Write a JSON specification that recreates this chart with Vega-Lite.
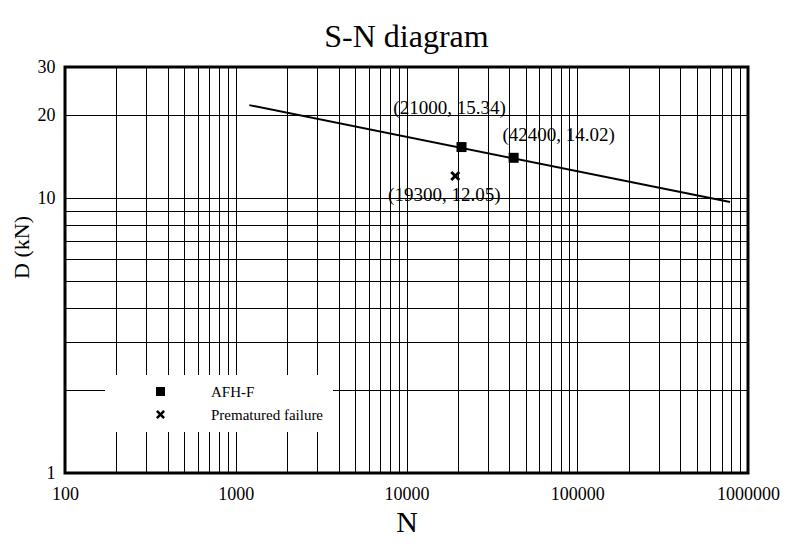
{
  "$schema": "https://vega.github.io/schema/vega-lite/v6.json",
  "width": 683,
  "height": 406,
  "autosize": {"type": "none"},
  "padding": {"left": 65, "top": 67, "right": 52, "bottom": 79},
  "background": "white",
  "title": {"text": "S-N diagram", "font": "Liberation Serif", "fontSize": 32, "fontWeight": "normal", "color": "black", "offset": 4, "anchor": "middle"},
  "config": {
    "font": "Liberation Serif",
    "view": {"stroke": "black", "strokeWidth": 3},
    "axis": {
      "grid": true, "gridColor": "black", "gridOpacity": 1, "gridWidth": 1,
      "ticks": false, "domain": false, "labelFlush": false,
      "labelFont": "Liberation Serif", "labelFontSize": 18, "labelColor": "black",
      "titleFont": "Liberation Serif", "titleFontWeight": "normal", "titleColor": "black"
    }
  },
  "datasets": {
    "fit": [
      {"N": 1200, "P": 21.8},
      {"N": 785000, "P": 9.68}
    ],
    "points": [
      {"N": 21000, "P": 15.34, "type": "AFH-F", "label": "(21000, 15.34)"},
      {"N": 42400, "P": 14.02, "type": "AFH-F", "label": "(42400, 14.02)"},
      {"N": 19300, "P": 12.05, "type": "Prematured failure", "label": "(19300, 12.05)"}
    ]
  },
  "encoding": {
    "x": {
      "field": "N", "type": "quantitative",
      "scale": {"type": "log", "domain": [100, 1000000], "nice": false},
      "axis": {
        "values": [100, 200, 300, 400, 500, 600, 700, 800, 900, 1000, 2000, 3000, 4000, 5000, 6000, 7000, 8000, 9000, 10000, 20000, 30000, 40000, 50000, 60000, 70000, 80000, 90000, 100000, 200000, 300000, 400000, 500000, 600000, 700000, 800000, 900000, 1000000],
        "labelExpr": "indexof([100, 1000, 10000, 100000, 1000000], datum.value) >= 0 ? format(datum.value, 'd') : ''",
        "labelPadding": 12,
        "labelOverlap": false,
        "title": "N", "titleFontSize": 30, "titleBaseline": "alphabetic", "titleY": 58
      }
    },
    "y": {
      "field": "P", "type": "quantitative",
      "scale": {"type": "log", "domain": [1, 30], "nice": false},
      "axis": {
        "values": [1, 2, 3, 4, 5, 6, 7, 8, 9, 10, 20, 30],
        "labelExpr": "indexof([1, 10, 20, 30], datum.value) >= 0 ? format(datum.value, 'd') : ''",
        "labelPadding": 10,
        "labelOverlap": false,
        "title": "D (kN)", "titleFontSize": 22, "titleAngle": -90,
        "titleX": -44, "titleY": 180, "titleAlign": "center", "titleBaseline": "middle"
      }
    }
  },
  "layer": [
    {
      "data": {"name": "fit"},
      "mark": {"type": "line", "color": "black", "strokeWidth": 2}
    },
    {
      "data": {"name": "points"},
      "mark": {"type": "point", "filled": true, "color": "black", "opacity": 1, "size": 100, "strokeWidth": 0},
      "encoding": {
        "shape": {
          "field": "type", "type": "nominal",
          "scale": {"domain": ["AFH-F", "Prematured failure"], "range": ["square", "M-1,-0.6L-0.6,-1L0,-0.4L0.6,-1L1,-0.6L0.4,0L1,0.6L0.6,1L0,0.4L-0.6,1L-1,0.6L-0.4,0Z"]},
          "legend": {
            "orient": "none", "legendX": 40, "legendY": 308,
            "title": null, "fillColor": "white", "padding": 9,
            "labelFont": "Liberation Serif", "labelFontSize": 15, "labelColor": "black",
            "symbolSize": 81, "symbolFillColor": "black", "symbolStrokeWidth": 0,
            "symbolOffset": 39, "labelOffset": 43, "rowPadding": 7
          }
        }
      }
    },
    {
      "data": {"name": "points"},
      "transform": [{"filter": "datum.N == 21000"}],
      "mark": {"type": "text", "fontSize": 19, "color": "black", "dx": -12, "dy": -39, "align": "center", "baseline": "middle"},
      "encoding": {"text": {"field": "label"}}
    },
    {
      "data": {"name": "points"},
      "transform": [{"filter": "datum.N == 42400"}],
      "mark": {"type": "text", "fontSize": 19, "color": "black", "dx": 45, "dy": -23, "align": "center", "baseline": "middle"},
      "encoding": {"text": {"field": "label"}}
    },
    {
      "data": {"name": "points"},
      "transform": [{"filter": "datum.N == 19300"}],
      "mark": {"type": "text", "fontSize": 19, "color": "black", "dx": -11, "dy": 19, "align": "center", "baseline": "middle"},
      "encoding": {"text": {"field": "label"}}
    }
  ]
}
